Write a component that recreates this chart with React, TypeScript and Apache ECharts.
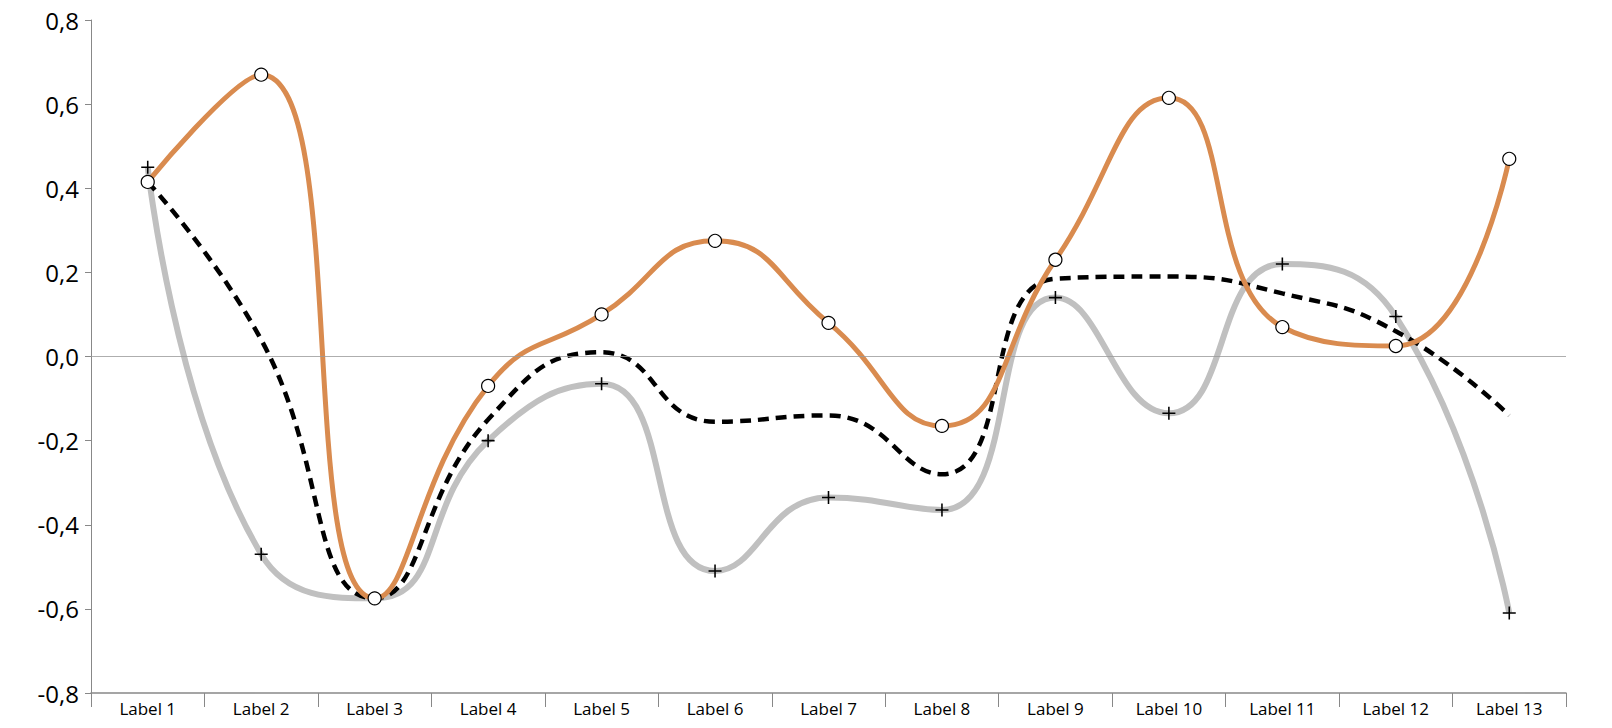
import React, { useEffect, useRef } from 'react';
import * as echarts from 'echarts';

const categories = ['Label 1', 'Label 2', 'Label 3', 'Label 4', 'Label 5', 'Label 6', 'Label 7', 'Label 8', 'Label 9', 'Label 10', 'Label 11', 'Label 12', 'Label 13'];
const orangeValues = [0.415, 0.67, -0.575, -0.07, 0.1, 0.275, 0.08, -0.165, 0.23, 0.615, 0.07, 0.025, 0.47];
const grayValues = [0.45, -0.47, -0.575, -0.2, -0.065, -0.51, -0.335, -0.365, 0.14, -0.135, 0.22, 0.095, -0.61];
const dashedValues = [0.415, 0.04, -0.575, -0.15, 0.01, -0.155, -0.14, -0.28, 0.185, 0.19, 0.15, 0.06, -0.14];

const crossSymbol = 'path://M4.4,0H5.6V10H4.4Z M0,4.4H10V5.6H0Z';

export default function App() {
  const ref = useRef<HTMLDivElement>(null);

  useEffect(() => {
    if (!ref.current) return;
    const chart = echarts.init(ref.current, null, { renderer: 'svg' });
    chart.setOption({
      animation: false,
      grid: { left: 91, right: 46, top: 20, bottom: 35 },
      xAxis: {
        type: 'category',
        data: categories,
        boundaryGap: true,
        axisLine: { onZero: false, lineStyle: { color: '#888', width: 1.5 } },
        axisTick: { show: true, interval: 0, length: 14, lineStyle: { color: '#888' } },
        axisLabel: { interval: 0, fontSize: 17, color: '#000', margin: 7, fontFamily: 'Open Sans' },
      },
      yAxis: {
        type: 'value',
        min: -0.8,
        max: 0.8,
        interval: 0.2,
        axisLine: { show: true, lineStyle: { color: '#888' } },
        axisTick: { show: true, length: 6, lineStyle: { color: '#888' } },
        splitLine: { show: false },
        axisLabel: {
          fontSize: 24,
          color: '#000',
          fontFamily: 'Open Sans',
          margin: 12,
          formatter: (v: number) => v.toFixed(1).replace('.', ','),
        },
      },
      series: [
        {
          type: 'line',
          data: grayValues,
          smooth: 0.5,
          lineStyle: { color: '#c0c0c0', width: 6 },
          symbol: crossSymbol,
          symbolSize: 13,
          itemStyle: { color: '#000' },
          z: 2,
          markLine: {
            silent: true,
            symbol: 'none',
            label: { show: false },
            lineStyle: { color: '#999', width: 0.8, type: 'solid' },
            data: [{ yAxis: 0 }],
          },
        },
        {
          type: 'line',
          data: dashedValues,
          smooth: 0.5,
          showSymbol: false,
          lineStyle: { color: '#000', width: 4.5, type: [11, 7] },
          z: 3,
        },
        {
          type: 'line',
          data: orangeValues,
          smooth: 0.5,
          lineStyle: { color: '#d98b4f', width: 5 },
          symbol: 'circle',
          symbolSize: 13,
          itemStyle: { color: '#fff', borderColor: '#000', borderWidth: 1.2 },
          z: 4,
        },
      ],
    });
    return () => chart.dispose();
  }, []);

  return (
    <div style={{ position: 'fixed', left: 0, top: 0, width: 1612, height: 728, overflow: 'hidden', background: '#fff' }}>
      <div ref={ref} style={{ width: 1612, height: 728 }} />
    </div>
  );
}
